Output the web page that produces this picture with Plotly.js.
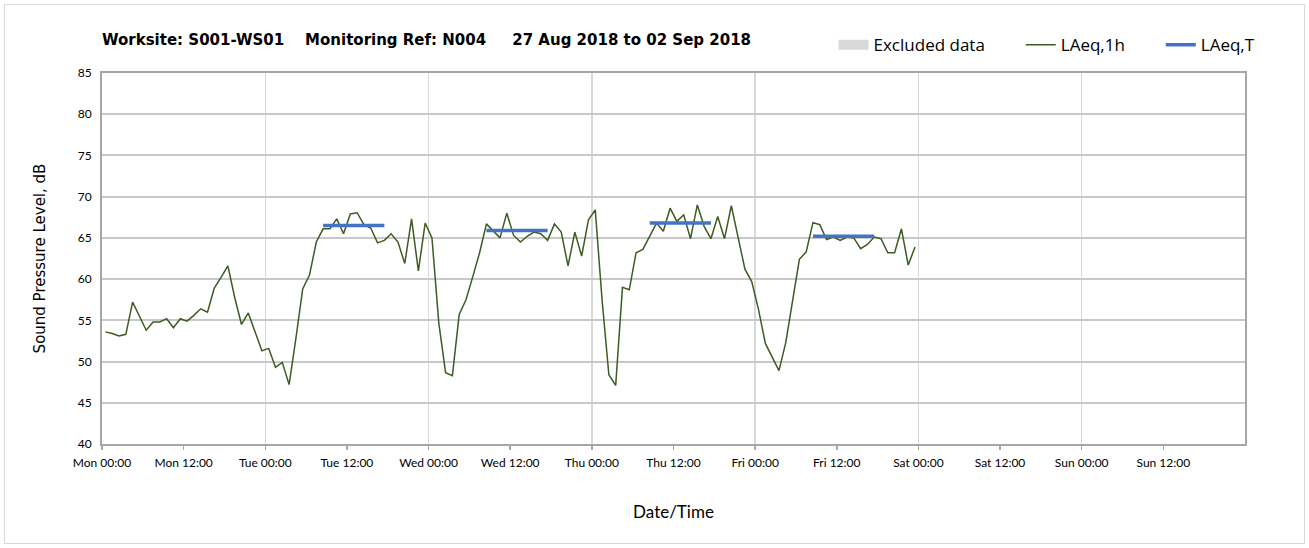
<!DOCTYPE html>
<html>
<head>
<meta charset="utf-8">
<script src="https://cdn.plot.ly/plotly-3.0.1.min.js"></script>
<style>
  body { margin: 0; background: #fff; }
  #wrap { position: relative; width: 1309px; height: 548px; }
  #chart { width: 1309px; height: 548px; }
  #frame { position: absolute; left: 4px; top: 4px; width: 1299px; height: 538px; border: 1px solid #d9d9d9; pointer-events: none; }
</style>
</head>
<body>
<div id="wrap"><div id="chart"></div><div id="frame"></div></div>
<script>
// ---- Data ----
const titleParts = ["Worksite: S001-WS01", "Monitoring Ref: N004", "27 Aug 2018 to 02 Sep 2018"];
const firstHourMid = "2018-08-27T00:30:00";   // LAeq,1h values are hour-centred
const laeq1h = [
  53.6, 53.4, 53.1, 53.3, 57.2, 55.5, 53.8, 54.8, 54.8, 55.2, 54.1, 55.2,
  54.9, 55.6, 56.4, 56.0, 58.9, 60.2, 61.6, 57.8, 54.5, 55.9, 53.7, 51.3,
  51.6, 49.3, 49.9, 47.2, 52.8, 58.8, 60.5, 64.5, 66.1, 66.1, 67.3, 65.5,
  67.9, 68.05, 66.6, 66.2, 64.4, 64.7, 65.5, 64.5, 61.9, 67.3, 61.0, 66.8,
  65.0, 54.7, 48.65, 48.3, 55.7, 57.5, 60.3, 63.2, 66.7, 65.8, 65.0, 68.0,
  65.3, 64.5, 65.2, 65.7, 65.5, 64.7, 66.7, 65.7, 61.6, 65.7, 62.8, 67.2,
  68.4, 57.5, 48.4, 47.1, 59.0, 58.7, 63.2, 63.6, 65.2, 66.8, 65.8, 68.6,
  67.0, 67.8, 64.9, 69.0, 66.4, 64.9, 67.6, 64.9, 68.9, 65.0, 61.2, 59.7,
  56.3, 52.2, 50.6, 48.9, 52.3, 57.5, 62.4, 63.3, 66.85, 66.6, 64.8, 65.1,
  64.7, 65.1, 65.0, 63.7, 64.2, 65.1, 64.9, 63.2, 63.2, 66.1, 61.7, 63.9
];
const periodStart = ["2018-08-28 08:30", "2018-08-29 08:30", "2018-08-30 08:30", "2018-08-31 08:30"];
const periodEnd   = ["2018-08-28 17:30", "2018-08-29 17:30", "2018-08-30 17:30", "2018-08-31 17:30"];
const laeqT       = [66.5, 65.9, 66.8, 65.2];
const axisStart = "2018-08-27 00:00";
const axisEnd   = "2018-09-03 00:00";
const labelTickCount = 14;   // Mon 00:00 ... Sun 12:00, every 12 h

// ---- Build traces ----
function fmt(ms) {
  const d = new Date(ms);
  const p = n => String(n).padStart(2, "0");
  return d.getFullYear() + "-" + p(d.getMonth() + 1) + "-" + p(d.getDate()) + " " + p(d.getHours()) + ":" + p(d.getMinutes());
}
const t0 = new Date(firstHourMid).getTime();
const xHour = laeq1h.map((_, i) => fmt(t0 + i * 3600000));
const a0 = new Date(axisStart.replace(" ", "T") + ":00").getTime();
const labelTicks = Array.from({ length: labelTickCount }, (_, i) => fmt(a0 + i * 43200000));

const tx = [], ty = [];
laeqT.forEach((v, i) => { tx.push(periodStart[i], periodEnd[i], null); ty.push(v, v, null); });

const nb = "\u00a0";
const traces = [
  { type: "scatter", mode: "lines", x: [null], y: [null],
    line: { width: 14, color: "#d9d9d9" }, name: "Excluded data" + nb.repeat(7), hoverinfo: "skip" },
  { type: "scatter", mode: "lines", x: xHour, y: laeq1h, name: "LAeq,1h" + nb.repeat(7), line: { color: "#3d5c23", width: 1.5 } },
  { type: "scatter", mode: "lines", x: tx, y: ty, name: "LAeq,T", line: { color: "#4472c4", width: 3.5 }, connectgaps: false },
  { type: "scatter", mode: "lines", x: [axisStart, axisEnd], y: [null, null], xaxis: "x2", showlegend: false, hoverinfo: "skip" }
];

const font = "Lato, 'Open Sans', sans-serif";
const layout = {
  width: 1309, height: 548,
  margin: { l: 102, r: 64, t: 73, b: 104 },
  paper_bgcolor: "#fff", plot_bgcolor: "#fff",
  font: { family: font, size: 12, color: "#000" },
  title: {
    text: "<b>" + titleParts[0] + nb.repeat(4) + titleParts[1] + nb.repeat(5) + titleParts[2] + "</b>",
    xref: "container", yref: "container", x: 102 / 1309, xanchor: "left", y: 1 - 40 / 548, yanchor: "middle",
    font: { family: "'DejaVu Sans', sans-serif", size: 15, color: "#000" }
  },
  showlegend: true,
  legend: {
    orientation: "h", x: 0.64, xanchor: "left", y: 1.075, yanchor: "middle",
    font: { family: "'Open Sans', sans-serif", size: 17, color: "#000" }, itemwidth: 30, traceorder: "normal",
    bgcolor: "rgba(0,0,0,0)"
  },
  xaxis: {
    type: "date", range: [axisStart, axisEnd], tick0: axisStart, dtick: 86400000,
    showgrid: true, gridcolor: "#d9d9d9", gridwidth: 1.5,
    showticklabels: false, ticks: "",
    showline: true, linecolor: "#a6a6a6", linewidth: 2, mirror: true, zeroline: false
  },
  xaxis2: {
    type: "date", overlaying: "x", anchor: "y", side: "bottom",
    range: [axisStart, axisEnd], tickmode: "array", tickvals: labelTicks, tickformat: "%a %H:%M",
    ticks: "outside", ticklen: 5, tickcolor: "#a6a6a6", tickwidth: 1.5, ticklabelstandoff: 3,
    showgrid: false, showline: false, zeroline: false,
    tickfont: { family: font, size: 12, color: "#000" },
    title: { text: "Date/Time", font: { family: font, size: 17, color: "#000" }, standoff: 36 }
  },
  yaxis: {
    range: [40, 85], dtick: 5, tick0: 40,
    showgrid: true, gridcolor: "#c8c8c8", gridwidth: 2,
    showline: true, linecolor: "#a6a6a6", linewidth: 2, mirror: true, zeroline: false,
    ticks: "", ticklabelstandoff: 6,
    tickfont: { family: font, size: 12, color: "#000" },
    title: { text: "Sound Pressure Level, dB", font: { family: "DejaVu Sans, sans-serif", size: 15, color: "#000" }, standoff: 28 }
  }
};

Plotly.newPlot("chart", traces, layout, { displayModeBar: false, staticPlot: true });
</script>
</body>
</html>
